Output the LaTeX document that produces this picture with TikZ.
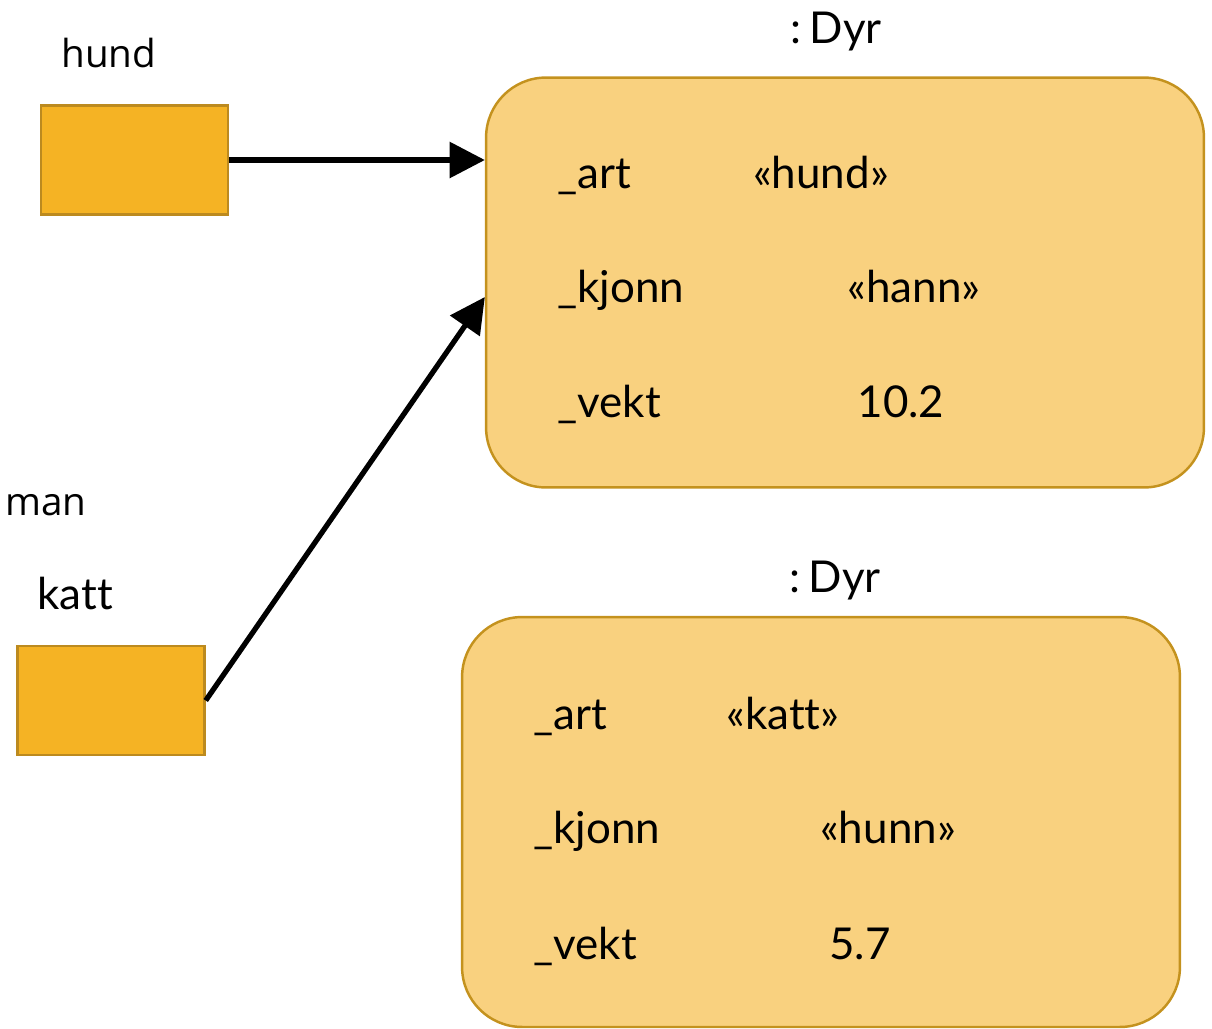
\documentclass[tikz,border=0pt]{standalone}
\usepackage{fontspec}
\setmainfont{Lato}[Ligatures=NoCommon]
\newfontfamily\varfont{Open Sans}
\usetikzlibrary{arrows.meta, positioning}
\definecolor{varfill}{RGB}{245,179,36}
\definecolor{varline}{RGB}{188,138,31}
\definecolor{objfill}{RGB}{249,209,127}
\definecolor{objline}{RGB}{196,146,30}

\begin{document}
\begin{tikzpicture}[x=0.02cm, y=-0.02cm,
  ref/.style={draw=varline, fill=varfill, line width=1.4pt,
              minimum width=3.74cm, minimum height=2.18cm},
  obj/.style={draw=objline, fill=objfill, line width=1.4pt, rounded corners=1.2cm,
              minimum width=14.36cm, minimum height=8.2cm},
  lbl/.style={font=\fontsize{25}{30}\selectfont, inner sep=0pt},
  varlbl/.style={font=\varfont\fontsize{22}{26}\selectfont, inner sep=0pt},
  arr/.style={-{Triangle[length=20pt, width=20pt]}, line width=3pt},
]
  \useasboundingbox (0,0) rectangle (1212,1028);

  % variables
  \node[varlbl, anchor=base west] (hundlbl) at (61,67) {hund};
  \node[ref] (hund) at (134.5,160) {};
  \node[varlbl, anchor=base west] (manlbl) at (5,515) {man};
  \node[lbl, anchor=base west] (kattlbl) at (37,609) {katt};
  \node[ref] (katt) at (111,700.5) {};

  % first object
  \node[lbl, anchor=base] (dyr1lbl) at (836,43) {:\hspace{0.2em}Dyr};
  \node[obj] (dyr1) at (845,282.5) {};
  \node[lbl, anchor=base west] (art1) at (557,188) {\_art};
  \node[lbl, anchor=base west] (kjonn1) at (557,302) {\_kjonn};
  \node[lbl, anchor=base west] (vekt1) at (557,417) {\_vekt};
  \node[lbl, anchor=base] (artval1) at (821,188) {«hund»};
  \node[lbl, anchor=base] (kjonnval1) at (914,302) {«hann»};
  \node[lbl, anchor=base] (vektval1) at (901,417) {10.2};

  % second object
  \node[lbl, anchor=base] (dyr2lbl) at (835,592) {:\hspace{0.2em}Dyr};
  \node[obj] (dyr2) at (821,822) {};
  \node[lbl, anchor=base west] (art2) at (533,729) {\_art};
  \node[lbl, anchor=base west] (kjonn2) at (533,843) {\_kjonn};
  \node[lbl, anchor=base west] (vekt2) at (533,959) {\_vekt};
  \node[lbl, anchor=base] (artval2) at (783,729) {«katt»};
  \node[lbl, anchor=base] (kjonnval2) at (888,843) {«hunn»};
  \node[lbl, anchor=base] (vektval2) at (860,959) {5.7};

  % references
  \draw[arr] (hund) -- (hund -| dyr1.west);
  \draw[arr] (katt.east) -- ([yshift=-0.29cm]dyr1.west);
\end{tikzpicture}
\end{document}
